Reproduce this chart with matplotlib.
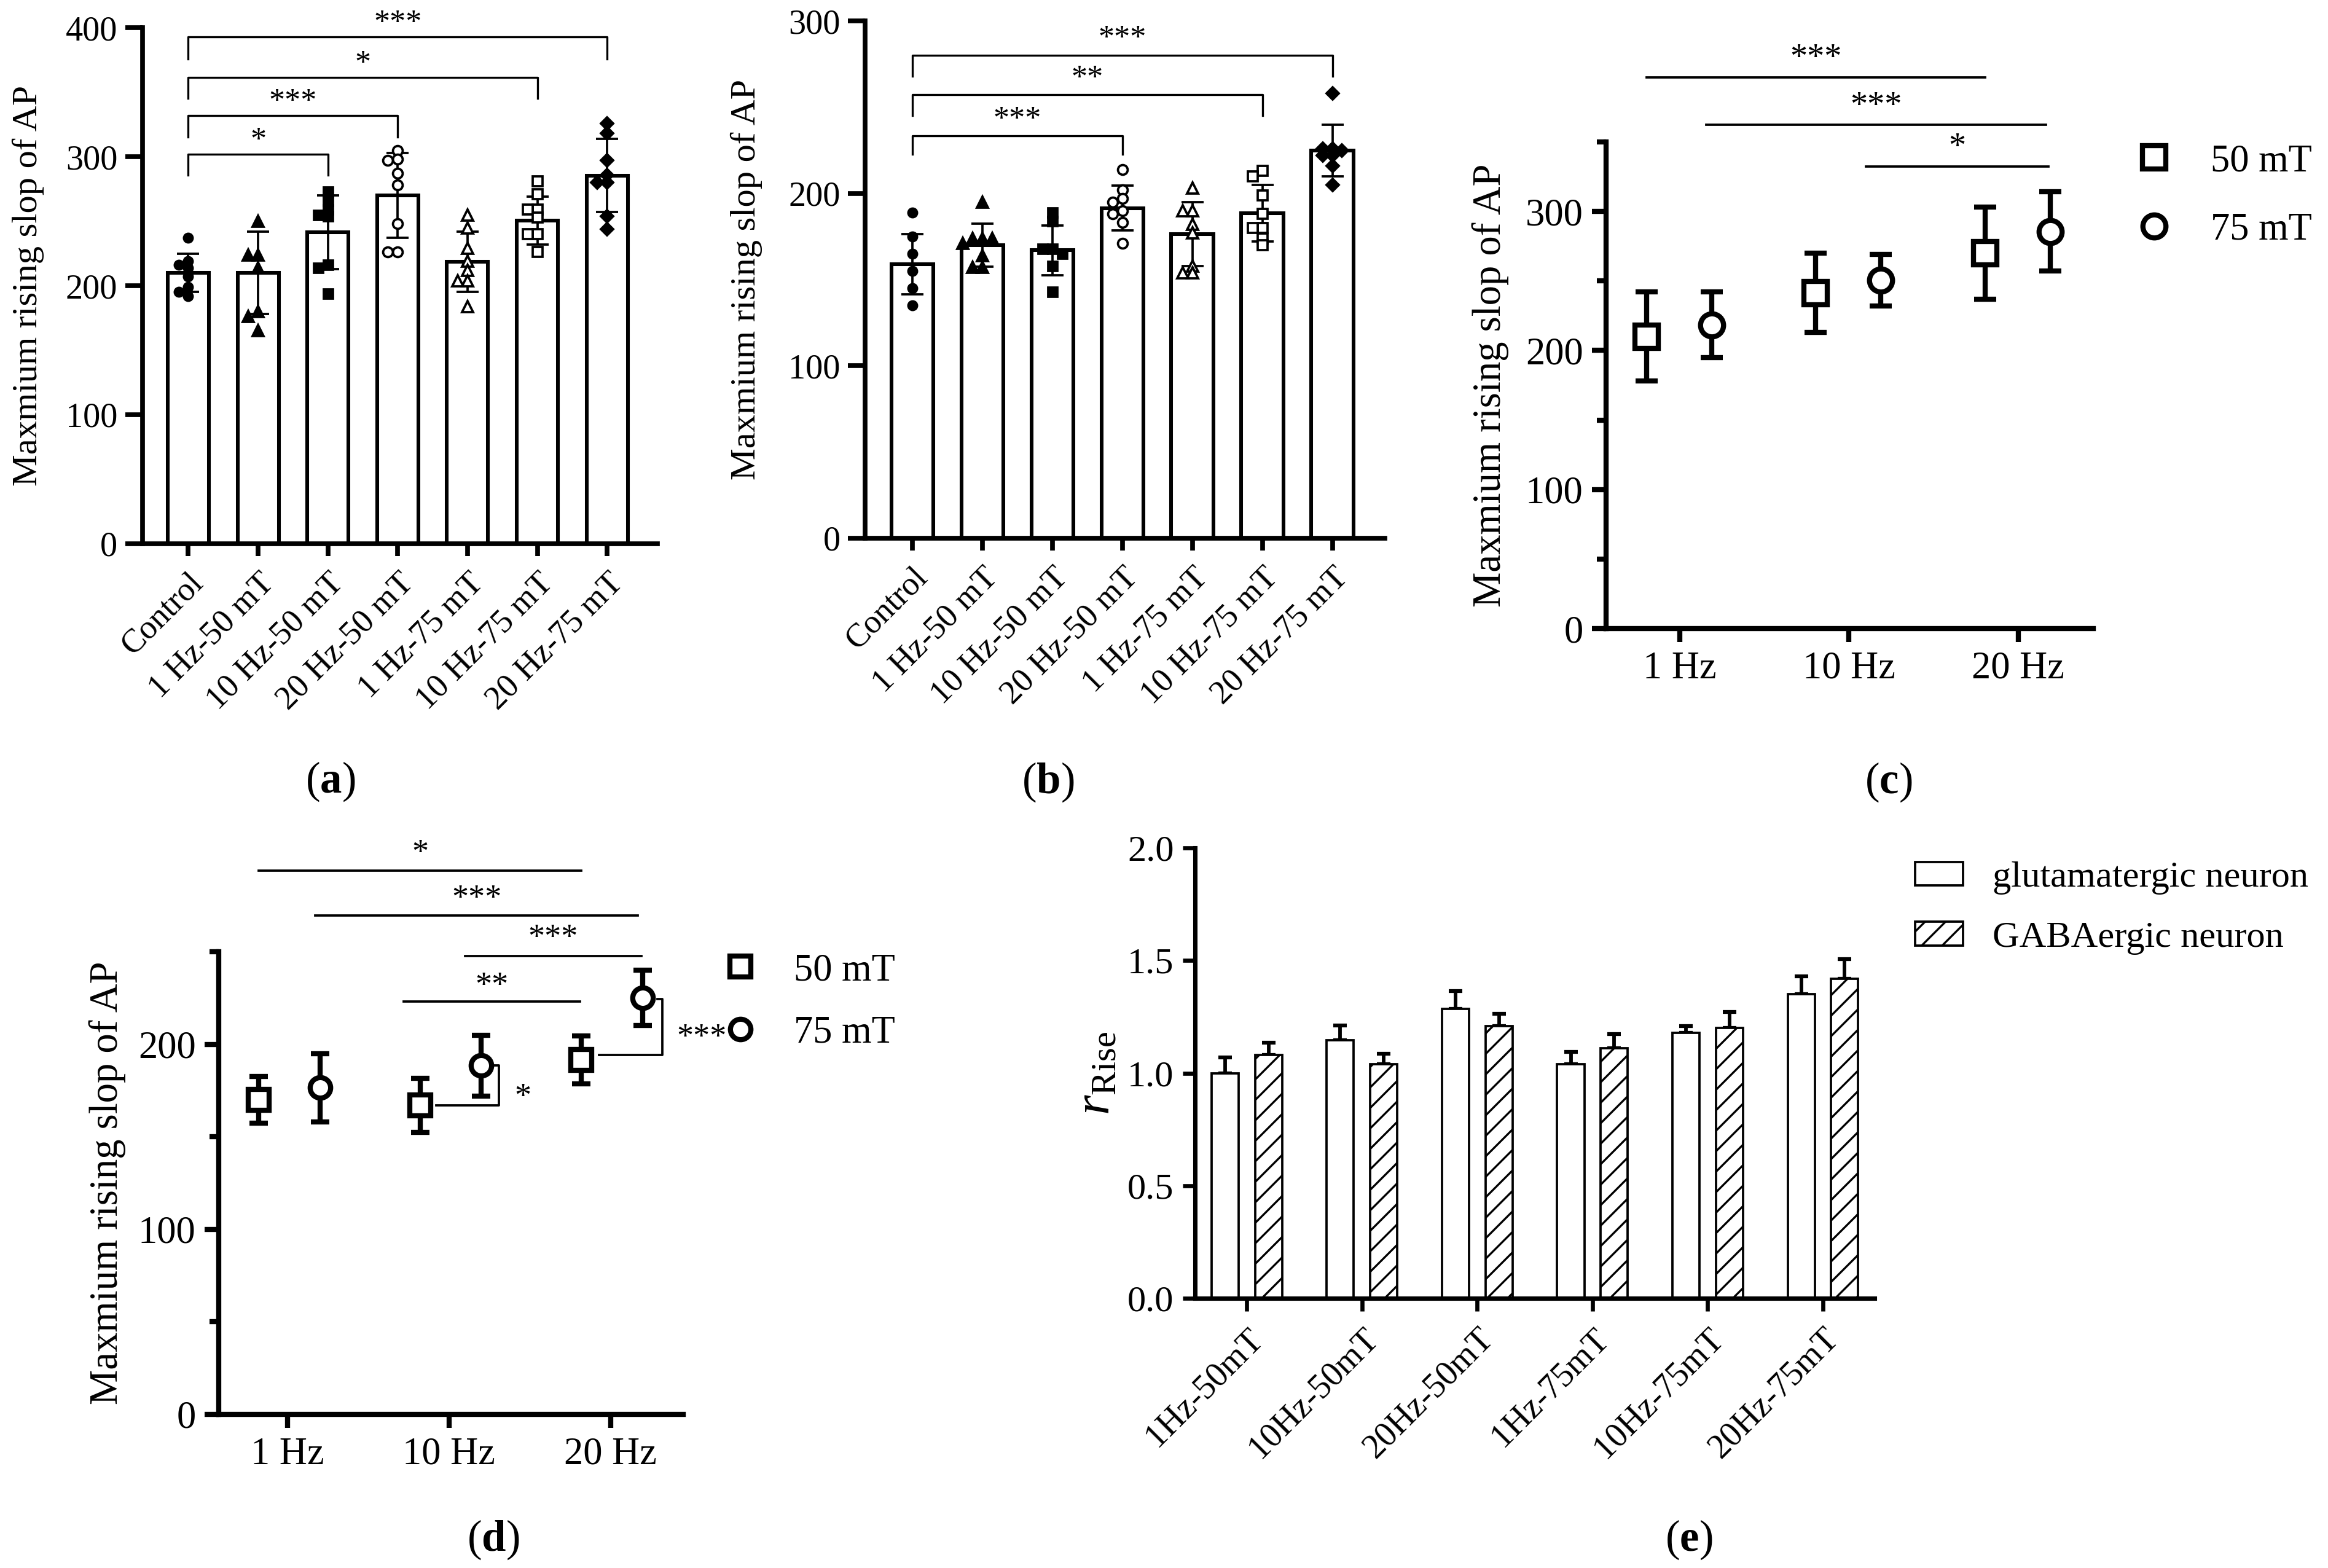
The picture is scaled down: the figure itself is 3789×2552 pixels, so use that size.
import numpy as np
import matplotlib
matplotlib.use('Agg')
import matplotlib.pyplot as plt

plt.rcParams['font.family'] = ['Liberation Serif', 'DejaVu Serif']
plt.rcParams['mathtext.fontset'] = 'custom'
plt.rcParams['mathtext.rm'] = 'Liberation Serif'
plt.rcParams['mathtext.it'] = 'Liberation Serif:italic'
plt.rcParams['mathtext.bf'] = 'Liberation Serif:bold'
plt.rcParams['hatch.linewidth'] = 0.8

# ---------------- data ----------------
groups_ab = ['Control', '1 Hz-50 mT', '10 Hz-50 mT', '20 Hz-50 mT',
             '1 Hz-75 mT', '10 Hz-75 mT', '20 Hz-75 mT']

a_mean = [210, 210, 241.5, 270, 218.5, 250.5, 285.5]
a_sd = [15, 32, 28.5, 33, 23.5, 18.5, 28.5]
a_points = [
    [237, 219, 216, 214, 207, 199, 195, 192],
    [250, 224, 224, 214, 180, 176, 165],
    [273, 266, 259, 255, 254, 216, 214, 194],
    [305, 298, 297, 287, 278, 248, 226, 226],
    [255, 245, 229, 219, 212, 204, 204, 184],
    [281, 271, 259, 259, 253, 240, 240, 226],
    [326, 318, 297, 286, 280, 280, 254, 244],
]

b_mean = [159, 170, 167, 191.5, 176.5, 188.5, 225]
b_sd = [17.5, 12.5, 14.5, 13, 18.5, 16.5, 15]
b_points = [
    [189, 175, 165, 155, 145, 135],
    [195, 174, 174, 174, 171, 164, 157, 157],
    [189, 184, 168, 168, 165, 158, 143],
    [214, 202, 197, 195, 190, 188, 183, 171],
    [203, 190, 190, 182, 177, 158, 154, 154],
    [213, 210, 199, 188, 180, 180, 174, 170],
    [258, 226, 226, 225, 222, 222, 216, 205],
]

freq_labels = ['1 Hz', '10 Hz', '20 Hz']
field_labels = ['50 mT', '75 mT']

# panel (c): same groups as (a); panel (d): same groups as (b)
c_mean_50, c_sd_50 = a_mean[1:4], a_sd[1:4]
c_mean_75, c_sd_75 = a_mean[4:7], a_sd[4:7]
d_mean_50, d_sd_50 = b_mean[1:4], b_sd[1:4]
d_mean_75, d_sd_75 = b_mean[4:7], b_sd[4:7]

e_groups = ['1Hz-50mT', '10Hz-50mT', '20Hz-50mT', '1Hz-75mT', '10Hz-75mT', '20Hz-75mT']
e_series = ['glutamatergic neuron', 'GABAergic neuron']
glut_mean = [1.00, 1.145, 1.285, 1.04, 1.18, 1.35]
glut_err = [0.07, 0.066, 0.08, 0.055, 0.028, 0.08]
gaba_mean = [1.08, 1.04, 1.21, 1.11, 1.20, 1.42]
gaba_err = [0.056, 0.047, 0.052, 0.063, 0.071, 0.085]

# significance annotations: (group i, group j, bracket top, tip, label)
a_sig = [(0, 2, 302, 286, '*'), (0, 3, 332, 315.5, '***'),
         (0, 5, 361.5, 345.5, '*'), (0, 6, 393, 376, '***')]
b_sig = [(0, 3, 233.4, 222.6, '***'), (0, 5, 257.2, 245.3, '**'),
         (0, 6, 280.3, 268, '***')]

# ---------------- figure ----------------
W, H = 3789, 2552
DPI = 300
fig = plt.figure(figsize=(W / DPI, H / DPI), dpi=DPI)


def rect(l, r, t, b):
    return [l / W, 1 - b / H, (r - l) / W, (b - t) / H]


def fxy(x, y):
    return (x / W, 1 - y / H)


def clean(ax, lw):
    for s in ['top', 'right']:
        ax.spines[s].set_visible(False)
    for s in ['left', 'bottom']:
        ax.spines[s].set_linewidth(lw)


def swarm(vals, ppu, msize_px, step):
    vals = np.asarray(vals, float)
    order = np.argsort(-vals, kind='stable')
    placed = []
    offs = np.zeros(len(vals))
    cands = [0.0, -step, step, -2 * step, 2 * step]
    for i in order:
        for c in cands:
            if all(not (abs(c - o) < 0.5 * step and abs(vals[i] - v) * ppu < msize_px)
                   for o, v in placed):
                offs[i] = c
                placed.append((c, vals[i]))
                break
    return offs


def star(ax, x, y, s, fs):
    ax.annotate(s, xy=(x, y), xytext=(0, -0.5 * fs), textcoords='offset points',
                ha='center', va='baseline', fontsize=fs, annotation_clip=False)


point_style = [
    dict(marker='o', ms=3.4, mfc='black'),
    dict(marker='^', ms=4.2, mfc='black'),
    dict(marker='s', ms=3.6, mfc='black'),
    dict(marker='o', ms=3.8, mfc='white'),
    dict(marker='^', ms=4.4, mfc='white'),
    dict(marker='s', ms=3.9, mfc='white'),
    dict(marker='D', ms=3.3, mfc='black'),
]


def bar_panel(ax, means, sds, points, sig, ylim, yticks, ppu, width, star_fs, star_gap):
    x = np.arange(len(means))
    ax.bar(x, means, width=width, color='white', edgecolor='black', linewidth=1.45, zorder=2)
    ax.errorbar(x, means, yerr=sds, fmt='none', ecolor='black', elinewidth=0.9,
                capsize=4.4, capthick=0.9, zorder=3)
    for i, pts in enumerate(points):
        offs = swarm(pts, ppu, 10, 0.14)
        st = point_style[i]
        ax.plot(i + offs, pts, ls='none', marker=st['marker'], ms=st['ms'],
                mfc=st['mfc'], mec='black', mew=0.9, zorder=4, clip_on=False)
    for (i, j, top, tip, s) in sig:
        ax.plot([i, i, j, j], [tip, top, top, tip], color='black', lw=0.8, clip_on=False)
        ax.annotate(s, xy=((i + j) / 2, top), xytext=(0, star_gap), textcoords='offset points',
                    ha='center', va='baseline', fontsize=star_fs, annotation_clip=False)
    ax.set_ylim(*ylim)
    ax.set_yticks(yticks)
    ax.set_xticks(x)
    ax.set_xticklabels(groups_ab, rotation=45, ha='right', va='top',
                       rotation_mode='anchor', fontsize=13)
    ax.tick_params(axis='y', length=6.7, width=1.85, labelsize=13.5, pad=3)
    ax.tick_params(axis='x', length=4.8, width=1.85, pad=4.5)
    clean(ax, 1.85)
    ax.set_ylabel('Maxmium rising slop of AP', fontsize=14, va='center')


# ---- (a) ----
axA = fig.add_axes(rect(231.5, 1070, 45.4, 884.6))
bar_panel(axA, a_mean, a_sd, a_points, a_sig, (0, 400), [0, 100, 200, 300, 400],
          2.098, 0.59, 12.5, 2.0)
axA.set_xlim(-0.66, 6.72)
axA.yaxis.set_label_coords((46 - 231.5) / (1070 - 231.5), 0.5)

# ---- (b) ----
axB = fig.add_axes(rect(1408, 2254, 34.5, 875.5))
bar_panel(axB, b_mean, b_sd, b_points, b_sig, (0, 300), [0, 100, 200, 300],
          2.803, 0.6, 12.5, 3.0)
axB.set_xlim(-0.675, 6.75)
axB.yaxis.set_label_coords((1215 - 1408) / (2254 - 1408), 0.5)


# ---- (c) & (d) ----
def dot_panel(ax, m50, s50, m75, s75, ylim, yticks, minor, ms, capsize, off50, off75):
    xs = np.arange(3)
    ax.errorbar(xs + off50, m50, yerr=s50, fmt='none', ecolor='black', elinewidth=2.0,
                capsize=capsize, capthick=2.0, zorder=2)
    ax.errorbar(xs + off75, m75, yerr=s75, fmt='none', ecolor='black', elinewidth=2.0,
                capsize=capsize, capthick=2.0, zorder=2)
    ax.plot(xs + off50, m50, ls='none', marker='s', ms=ms, mfc='white', mec='black',
            mew=2.0, zorder=3, label=field_labels[0])
    ax.plot(xs + off75, m75, ls='none', marker='o', ms=ms, mfc='white', mec='black',
            mew=2.0, zorder=3, label=field_labels[1])
    ax.set_ylim(*ylim)
    ax.set_yticks(yticks)
    ax.set_yticks(minor, minor=True)
    ax.set_xticks(xs)
    ax.set_xticklabels(freq_labels)
    ax.tick_params(axis='y', which='major', length=5.5, width=2.0, labelsize=15)
    ax.tick_params(axis='y', which='minor', length=3.5, width=2.0)
    ax.tick_params(axis='x', length=5.3, width=2.0, labelsize=15)
    clean(ax, 2.0)
    ax.set_ylabel('Maxmium rising slop of AP', fontsize=15.5, va='center')


axC = fig.add_axes(rect(2614, 3407, 231, 1023))
dot_panel(axC, c_mean_50, c_sd_50, c_mean_75, c_sd_75, (0, 350), [0, 100, 200, 300],
          [50, 150, 250, 350], 9, 4.4, -0.195, 0.19)
axC.set_xlim(-0.434, 2.444)
axC.yaxis.set_label_coords((2426 - 2614) / (3407 - 2614), 0.5)
for (x0, x1, y, s, ys) in [(-0.195, 1.806, 396.4, '***', 415.8),
                           (0.157, 2.165, 362.3, '***', 381.4),
                           (1.10, 2.18, 332.2, '*', 351.7)]:
    axC.plot([x0, x1], [y, y], color='black', lw=0.9, clip_on=False)
    star(axC, (x0 + x1) / 2, ys, s, 13.5)
fx, fy = fxy(3475, 319)
axC.legend(loc='center left', bbox_to_anchor=(fx, fy), bbox_transform=fig.transFigure,
           frameon=False, borderpad=0, borderaxespad=0, handlelength=1.0,
           handletextpad=0.97, labelspacing=0.86, fontsize=15, numpoints=1)

axD = fig.add_axes(rect(356, 1112, 1549, 2302))
dot_panel(axD, d_mean_50, d_sd_50, d_mean_75, d_sd_75, (0, 250), [0, 100, 200],
          [50, 150, 250], 8, 3.6, -0.18, 0.2)
axD.set_xlim(-0.426, 2.45)
axD.yaxis.set_label_coords((175 - 356) / (1112 - 356), 0.5)
for (x0, x1, y, s, ys) in [(-0.18, 1.82, 293.7, '*', 307.5),
                           (0.171, 2.17, 269.6, '***', 282.9),
                           (1.10, 2.19, 247.8, '***', 261.6),
                           (0.72, 1.81, 223.2, '**', 235.9)]:
    axD.plot([x0, x1], [y, y], color='black', lw=0.9, clip_on=False)
    star(axD, (x0 + x1) / 2, ys, s, 13)
# paired comparisons between fields
axD.plot([0.92, 1.31, 1.31, 1.28], [d_mean_50[1], d_mean_50[1], d_mean_75[1], d_mean_75[1]],
         color='black', lw=0.9, clip_on=False)
star(axD, 1.456, 175.7, '*', 13)
axD.plot([1.93, 2.32, 2.32, 2.29], [194.3, 194.3, 224.5, 224.5],
         color='black', lw=0.9, clip_on=False)
star(axD, 2.566, 208, '***', 13)
fx, fy = fxy(1174, 1631)
axD.legend(loc='center left', bbox_to_anchor=(fx, fy), bbox_transform=fig.transFigure,
           frameon=False, borderpad=0, borderaxespad=0, handlelength=1.0,
           handletextpad=0.88, labelspacing=0.7, fontsize=15, numpoints=1)

# ---- (e) ----
axE = fig.add_axes(rect(1945, 3051, 1380, 2113))
xe = np.arange(len(e_groups))
axE.bar(xe - 0.187, glut_mean, 0.235, color='white', edgecolor='black', lw=0.9,
        zorder=2, label=e_series[0])
axE.bar(xe + 0.19, gaba_mean, 0.235, color='white', edgecolor='black', lw=0.9,
        hatch='///', zorder=2, label=e_series[1])
axE.errorbar(xe - 0.187, glut_mean, yerr=[np.zeros(len(xe)), glut_err], fmt='none',
             ecolor='black', elinewidth=1.4, capsize=2.7, capthick=1.5, zorder=1)
axE.errorbar(xe + 0.19, gaba_mean, yerr=[np.zeros(len(xe)), gaba_err], fmt='none',
             ecolor='black', elinewidth=1.4, capsize=2.7, capthick=1.5, zorder=1)
axE.set_xlim(-0.448, 5.45)
axE.set_ylim(0, 2.0)
axE.set_yticks([0, 0.5, 1.0, 1.5, 2.0])
axE.set_xticks(xe)
axE.set_xticklabels(e_groups, rotation=45, ha='right', va='top', rotation_mode='anchor',
                    fontsize=13.5)
axE.tick_params(axis='y', length=4.8, width=1.6, labelsize=14.5)
axE.tick_params(axis='x', length=5, width=1.6, pad=4.5)
clean(axE, 1.7)
axE.set_ylabel(r'$r_{\mathrm{Rise}}$', fontsize=20, va='center')
axE.yaxis.set_label_coords((1785 - 1945) / (3051 - 1945), 0.5)
fx, fy = fxy(3117, 1478)
axE.legend(loc='center left', bbox_to_anchor=(fx, fy), bbox_transform=fig.transFigure,
           frameon=False, borderpad=0, borderaxespad=0, handlelength=1.29,
           handleheight=0.6, handletextpad=0.79, labelspacing=0.72, fontsize=14.5)

# ---- captions ----
for (lab, x, y) in [('a', 538, 1272), ('b', 1706, 1273), ('c', 3074, 1273),
                    ('d', 803, 2506), ('e', 2749, 2506)]:
    fx, fy = fxy(x, y)
    fig.text(fx, fy, '($\\mathbf{' + lab + '}$)', ha='center', va='center', fontsize=17)

fig.savefig('out.png', dpi=DPI)
